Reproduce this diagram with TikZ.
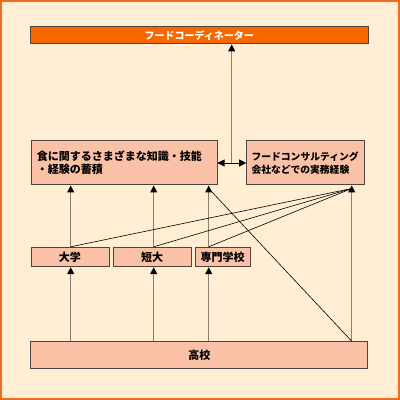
\documentclass[tikz,border=0pt]{standalone}
\usepackage{fontspec}
\setmainfont{Noto Sans CJK JP}
\usetikzlibrary{calc, arrows.meta}

\definecolor{cream}{HTML}{FFEED3}
\definecolor{frameorange}{HTML}{F26B1D}
\definecolor{topfill}{HTML}{F76800}
\definecolor{boxfill}{HTML}{FBC1A6}
\definecolor{boxline}{HTML}{4A4540}
\definecolor{arrline}{HTML}{8C7D6E}

\tikzset{
	box/.style={draw=boxline, line width=1, fill=boxfill, inner sep=0, font=\bfseries\fontsize{11}{13}\selectfont},
	topbox/.style={box, fill=topfill, text=white, font=\bfseries\fontsize{10}{12}\selectfont},
	arr/.style={draw=arrline, line width=1, -{Triangle[width=7, length=7, color=black]}},
	thin/.style={draw=black, line width=0.6}
}

\begin{document}
\begin{tikzpicture}[x=1pt, y=1pt]
	\useasboundingbox (0, 0) rectangle (400, 400);
	\fill [cream] (0, 0) rectangle (400, 400);
	\draw [frameorange, line width=4] (0, 0) rectangle (400, 400);

	\node (coord) at (199.3, 364.7) [topbox, minimum width=338.5, minimum height=17.3] {フードコーディネーター};

	\node (know) at (124, 237) [box, minimum width=186, minimum height=44, align=left, text width=174] {食に関するさまざまな知識・技能\\・経験の蓄積};
	\node (cons) at (305.5, 237) [box, minimum width=117.6, minimum height=44, align=left, text width=108, font=\bfseries\fontsize{9.8}{13}\selectfont] {フードコンサルティング\\会社などでの実務経験};

	\node (univ) at (70, 143) [box, minimum width=78, minimum height=19.4] {大学};
	\node (junior) at (152, 143) [box, minimum width=78, minimum height=19.4] {短大};
	\node (voc) at (222.5, 143) [box, minimum width=55, minimum height=19.4] {専門学校};

	\node (high) at (199.3, 45) [box, minimum width=336.7, minimum height=26.6] {高校};

	% columns of the arrows
	\coordinate (ca) at (70.7, 0);
	\coordinate (cb) at (153.7, 0);
	\coordinate (cc) at (208.7, 0);
	\coordinate (cd) at (351.7, 0);
	\coordinate (ce) at (231.7, 0);

	\draw [arr] (high.north -| ca) -- (univ.south -| ca);
	\draw [arr] (high.north -| cb) -- (junior.south -| cb);
	\draw [arr] (high.north -| cc) -- (voc.south -| cc);
	\draw [arr] (univ.north -| ca) -- (know.south -| ca);
	\draw [arr] (junior.north -| cb) -- (know.south -| cb);
	\draw [arr] (voc.north -| cc) -- (know.south -| cc);
	\draw [arr] (high.north -| cd) -- (cons.south -| cd);

	\coordinate (ctip) at ($(cons.south -| cd) + (0, -3)$);
	\coordinate (ktip) at ($(know.south -| cc) + (0, -3)$);
	\draw [thin] (univ.north -| ca) -- (ctip);
	\draw [thin] (junior.north -| cb) -- (ctip);
	\draw [thin] (voc.north -| cc) -- (ctip);
	\draw [thin] (high.north -| cd) -- (ktip);

	\draw [thin, {Triangle[width=7, length=7]}-{Triangle[width=7, length=7]}] (know.east) -- (cons.west);
	\draw [arr] (know.east -| ce) -- (coord.south -| ce);
\end{tikzpicture}
\end{document}
